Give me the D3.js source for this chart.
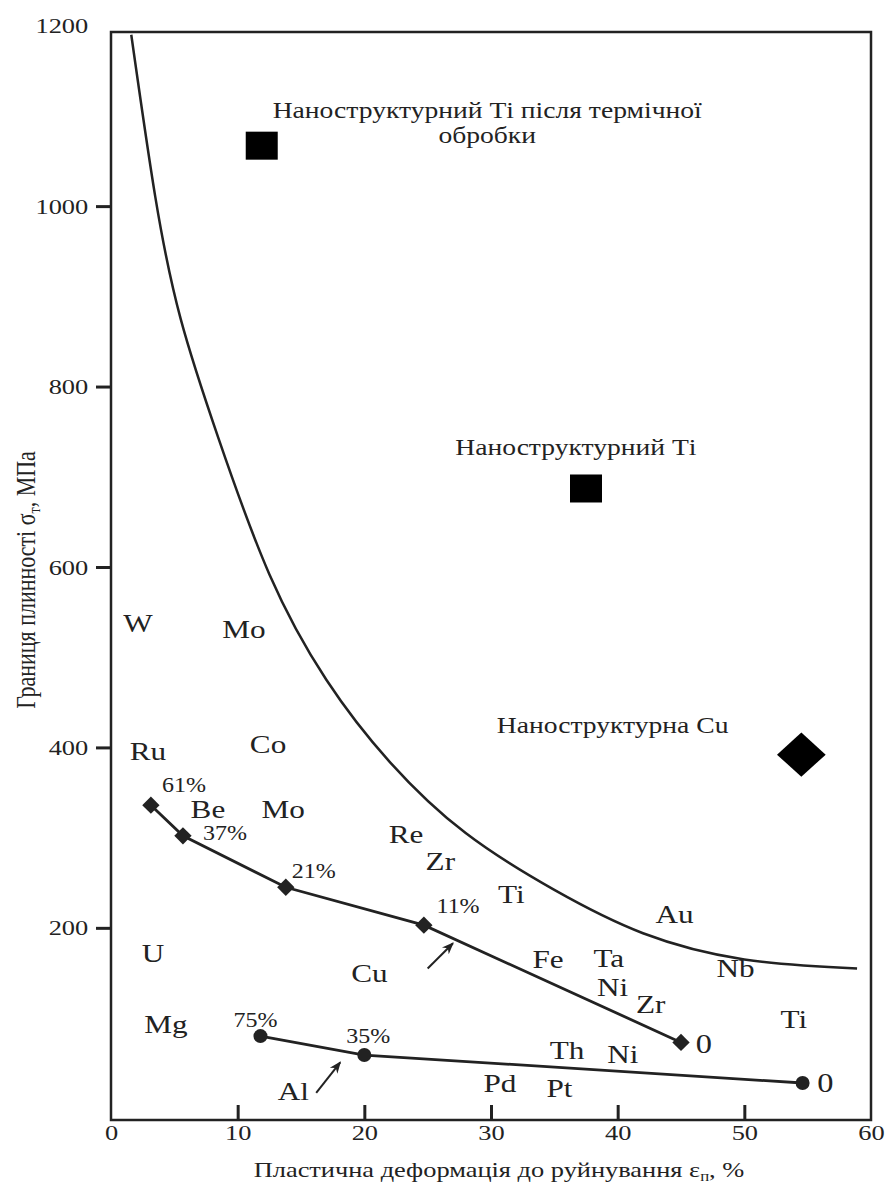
<!DOCTYPE html>
<html>
<head>
<meta charset="utf-8">
<script src="https://cdn.jsdelivr.net/npm/d3@7"></script>
<style>
  body { margin: 0; background: #fff; }
  svg text { font-family: "Liberation Serif", "Times New Roman", serif; fill: #222; }
</style>
</head>
<body>
<div id="chart"></div>
<script>
// axis ticks
var xTicks = [0, 10, 20, 30, 40, 50, 60]
var yTicks = [200, 400, 600, 800, 1000, 1200]

// boundary curve
var curveX = [1.6, 3.5, 5.5, 8.5, 12.5, 17, 22, 28, 35, 42, 50, 58.9]
var curveY = [1190, 1010, 875, 742, 592, 475, 384, 305, 242, 194, 165, 155]

// upper series (diamonds)
var line1X = [3.15, 5.68, 13.8, 24.7, 45.0]
var line1Y = [336, 302, 245, 203, 73]
var line1Labels = ["61%", "37%", "21%", "11%", "0"]
var line1LabX = [5.76, 8.99, 16.0, 27.4, 46.8]
var line1LabY = [351, 297, 255, 216, 61]

// lower series (circles)
var line2X = [11.8, 20.0, 54.6]
var line2Y = [80, 59, 28]
var line2Labels = ["75%", "35%", "0"]
var line2LabX = [11.4, 20.3, 56.4]
var line2LabY = [90, 72, 18]

// element labels
var elements = ["W", "Mo", "Ru", "Co", "Be", "Mo", "Re", "Zr", "Ti", "Au", "U", "Cu",
                "Fe", "Ta", "Nb", "Ni", "Zr", "Ti", "Mg", "Th", "Ni", "Pd", "Pt", "Al"]
var elemX = [2.13, 10.5, 2.92, 12.4, 7.65, 13.6, 23.3, 26.0, 31.6, 44.5, 3.31, 20.4,
             34.5, 39.3, 49.3, 39.6, 42.6, 53.9, 4.34, 36.0, 40.4, 30.7, 35.4, 14.4]
var elemY = [528, 521, 386, 394, 322, 322, 294, 264, 228, 205, 162, 140,
             156, 157, 145, 124, 106, 89, 83, 55, 50, 18, 12, 9]

// nanostructured points
var nanoX = [11.9, 37.5, 54.5]
var nanoY = [1067, 687, 392]
var nanoShape = ["square", "square", "diamond"]
var nanoText = [["Наноструктурний Ті після термічної", "обробки"], ["Наноструктурний Ті"], ["Наноструктурна Cu"]]
var nanoTextX = [29.7, 36.7, 39.6]
var nanoTextY = [1098, 724, 416]

// arrows
var arrowFromX = [25.0, 16.2]
var arrowFromY = [155, 17]
var arrowToX = [27.0, 18.1]
var arrowToY = [183, 51]

var width = 886, height = 1187
var SX = 1.2   // the scanned figure is stretched horizontally
var ink = "#222"

var x = d3.scaleLinear().domain([0, 60]).range([111, 871])
var y = d3.scaleLinear().domain([-13, 1193]).range([1120, 32])

var svg = d3.select("#chart")
    .append("svg")
    .attr("width", width)
    .attr("height", height)

var defs = svg.append("defs")
defs.append("marker")
    .attr("id", "arr")
    .attr("viewBox", "0 0 10 10")
    .attr("refX", 9)
    .attr("refY", 5)
    .attr("markerUnits", "userSpaceOnUse")
    .attr("markerWidth", 12)
    .attr("markerHeight", 12)
    .attr("orient", "auto")
    .append("path")
    .attr("d", "M0,1 L10,5 L0,9 L3,5 Z")
    .attr("fill", ink)

// frame
svg.append("rect")
    .attr("x", x(0))
    .attr("y", y(1193))
    .attr("width", x(60) - x(0))
    .attr("height", y(-13) - y(1193))
    .attr("fill", "none")
    .attr("stroke", ink)
    .attr("stroke-width", 2.5)

// X axis (ticks pointing inward)
var gx = svg.append("g")
    .attr("transform", "translate(0," + y(-13) + ")")
    .call(d3.axisBottom(x).tickValues(xTicks).tickSize(-15).tickPadding(4).tickFormat(d3.format("d")))
gx.select(".domain").remove()
gx.selectAll(".tick line")
    .attr("stroke", ink)
    .attr("stroke-width", 3)
    .filter(function (d) { return d === 0 || d === 60 })
    .remove()
gx.selectAll(".tick text")
    .attr("font-size", 22)
    .attr("fill", ink)
    .attr("transform", "scale(" + SX + ",1)")

// Y axis (ticks pointing outward)
var gy = svg.append("g")
    .attr("transform", "translate(" + x(0) + ",0)")
    .call(d3.axisLeft(y).tickValues(yTicks).tickSize(15).tickPadding(4).tickFormat(d3.format("d")))
gy.select(".domain").remove()
gy.selectAll(".tick line")
    .attr("stroke", ink)
    .attr("stroke-width", 3)
    .filter(function (d) { return d === 1200 })
    .remove()
gy.selectAll(".tick text")
    .attr("font-size", 22)
    .attr("fill", ink)
    .attr("transform", "scale(" + SX + ",1)")

// axis titles
var xt = svg.append("text")
    .attr("transform", "translate(499,1177) scale(" + SX + ",1)")
    .attr("text-anchor", "middle")
    .attr("font-size", 22)
xt.append("tspan").text("Пластична деформація до руйнування ε")
xt.append("tspan").attr("font-size", 14).attr("dy", 4).text("п")
xt.append("tspan").attr("dy", -4).text(", %")

var yt = svg.append("text")
    .attr("transform", "translate(35,580) scale(" + SX + ",1) rotate(-90)")
    .attr("text-anchor", "middle")
    .attr("font-size", 22)
yt.append("tspan").text("Границя плинності σ")
yt.append("tspan").attr("font-size", 14).attr("dy", 4).text("т")
yt.append("tspan").attr("dy", -4).text(", МПа")

// boundary curve
var curveData = curveX.map(function (d, i) { return [d, curveY[i]] })
svg.append("path")
    .datum(curveData)
    .attr("fill", "none")
    .attr("stroke", ink)
    .attr("stroke-width", 2.5)
    .attr("d", d3.line()
        .x(function (d) { return x(d[0]) })
        .y(function (d) { return y(d[1]) })
        .curve(d3.curveNatural))

// series lines
var line = d3.line()
    .x(function (d) { return x(d[0]) })
    .y(function (d) { return y(d[1]) })

var s1 = line1X.map(function (d, i) { return [d, line1Y[i]] })
var s2 = line2X.map(function (d, i) { return [d, line2Y[i]] })

svg.append("path").datum(s1)
    .attr("fill", "none").attr("stroke", ink).attr("stroke-width", 2.8)
    .attr("d", line)
svg.append("path").datum(s2)
    .attr("fill", "none").attr("stroke", ink).attr("stroke-width", 2.8)
    .attr("d", line)

svg.append("g")
    .selectAll("path")
    .data(s1)
    .enter()
    .append("path")
    .attr("d", d3.symbol(d3.symbolSquare, 150))
    .attr("transform", function (d) { return "translate(" + x(d[0]) + "," + y(d[1]) + ") rotate(45)" })
    .attr("fill", ink)

svg.append("g")
    .selectAll("circle")
    .data(s2)
    .enter()
    .append("circle")
    .attr("cx", function (d) { return x(d[0]) })
    .attr("cy", function (d) { return y(d[1]) })
    .attr("r", 7)
    .attr("fill", ink)

// percent labels along the series
function addLabels(labels, lx, ly) {
    svg.append("g")
        .selectAll("text")
        .data(labels)
        .enter()
        .append("text")
        .attr("transform", function (d, i) { return "translate(" + x(lx[i]) + "," + y(ly[i]) + ") scale(" + SX + ",1)" })
        .attr("text-anchor", "middle")
        .attr("font-size", function (d) { return d === "0" ? 27 : 20 })
        .text(function (d) { return d })
}
addLabels(line1Labels, line1LabX, line1LabY)
addLabels(line2Labels, line2LabX, line2LabY)

// element symbols
svg.append("g")
    .selectAll("text")
    .data(elements)
    .enter()
    .append("text")
    .attr("transform", function (d, i) { return "translate(" + x(elemX[i]) + "," + y(elemY[i]) + ") scale(" + SX + ",1)" })
    .attr("text-anchor", "middle")
    .attr("font-size", 26)
    .text(function (d) { return d })

// arrows
svg.append("g")
    .selectAll("line")
    .data(arrowFromX)
    .enter()
    .append("line")
    .attr("x1", function (d, i) { return x(arrowFromX[i]) })
    .attr("y1", function (d, i) { return y(arrowFromY[i]) })
    .attr("x2", function (d, i) { return x(arrowToX[i]) })
    .attr("y2", function (d, i) { return y(arrowToY[i]) })
    .attr("stroke", ink)
    .attr("stroke-width", 2)
    .attr("marker-end", "url(#arr)")

// nanostructured markers
nanoX.forEach(function (d, i) {
    if (nanoShape[i] === "square") {
        svg.append("rect")
            .attr("x", x(d) - 16)
            .attr("y", y(nanoY[i]) - 14)
            .attr("width", 32)
            .attr("height", 28)
            .attr("fill", "#000")
    } else {
        svg.append("path")
            .attr("d", d3.symbol(d3.symbolSquare, 980)())
            .attr("transform", "translate(" + x(d) + "," + y(nanoY[i]) + ") scale(1.1,1) rotate(45)")
            .attr("fill", "#000")
    }
    var t = svg.append("text")
        .attr("transform", "translate(" + x(nanoTextX[i]) + "," + y(nanoTextY[i]) + ") scale(" + SX + ",1)")
        .attr("text-anchor", "middle")
        .attr("font-size", 23)
    nanoText[i].forEach(function (s, j) {
        t.append("tspan").attr("x", 0).attr("dy", j === 0 ? 0 : 25).text(s)
    })
})
</script>
</body>
</html>
